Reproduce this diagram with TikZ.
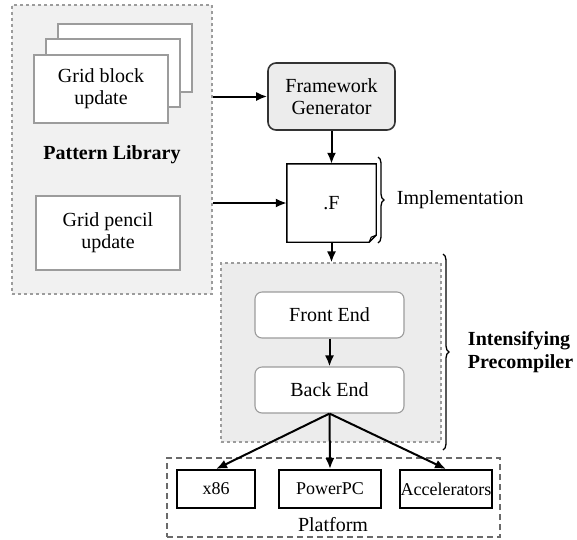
\documentclass[tikz,border=0pt]{standalone}
\usepackage{fontspec}
\setmainfont{Liberation Serif}
\usetikzlibrary{positioning,arrows.meta,decorations.pathreplacing}

\definecolor{panelgray}{HTML}{F1F1F1}
\definecolor{edgegray}{HTML}{9C9C9C}
\definecolor{boxgray}{HTML}{ECECEC}
\definecolor{platgray}{HTML}{6A6A6A}

\tikzset{
  panel/.style={draw=edgegray, dashed, fill=panelgray, line width=1.1pt},
  page/.style={draw=edgegray, fill=white, line width=1.5pt, minimum width=134pt,
    minimum height=68pt, align=center},
  stage/.style={draw=edgegray, fill=white, rounded corners=7pt, line width=1.1pt,
    minimum width=149pt, minimum height=46pt},
  target/.style={draw, line width=2pt, fill=white, minimum height=38pt, inner sep=1pt,
    font=\fontsize{18}{21}\selectfont},
  flow/.style={-{Latex[length=11pt, width=9pt]}, line width=2pt},
  bracket/.style={decorate, decoration={brace, amplitude=6pt}, line width=1.3pt},
}

\begin{document}
\begin{tikzpicture}[x=1pt, y=-1pt, font=\fontsize{20}{22}\selectfont]
  \useasboundingbox (0,0) rectangle (577,539);

  % pattern library
  \node[panel, minimum width=200pt, minimum height=289pt] (lib) at (112,149.5) {};
  \node[page] (blkback) at (125,58) {};
  \node[page] (blkmid) at (113,73) {};
  \node[page] (blk) at (101,89) {Grid block\\update};
  \node[font=\fontsize{20}{22}\selectfont\bfseries] (libname) at (112,155) {Pattern Library};
  \node[page, minimum width=144pt, minimum height=74pt] (pencil) at (108,233) {Grid pencil\\update};

  % generator and implementation
  \node[draw=black!80, fill=boxgray, rounded corners=8pt, line width=1.6pt,
    minimum width=127pt, minimum height=67pt, align=center] (fw) at (331.5,96.5)
    {Framework\\Generator};
  \node[minimum width=89pt, minimum height=78pt] (impl) at (331.5,203) {.F};
  \draw[line width=1.4pt] (impl.north west) -- (impl.north east)
    -- ([yshift=7pt]impl.south east) -- ([xshift=-7pt]impl.south east)
    -- (impl.south west) -- cycle;
  \draw[line width=1.1pt] ([yshift=7pt]impl.south east) -- ([xshift=-5pt, yshift=5pt]impl.south east)
    -- ([xshift=-7pt]impl.south east);

  \draw[flow] (lib.east |- fw) -- (fw.west);
  \draw[flow] (lib.east |- impl) -- (impl.west);
  \draw[flow] (fw) -- (impl);

  \draw[bracket] (378,157) -- (378,243)
    node[midway, right=15pt] (impllbl) {Implementation};

  % precompiler
  \node[panel, fill=boxgray, minimum width=220pt, minimum height=179pt] (icomp) at (331,352.5) {};
  \node[stage] (fe) at (329.5,315) {Front End};
  \node[stage] (be) at (329.5,390) {Back End};
  \draw[flow] (impl) -- (icomp.north -| impl);
  \draw[flow] (fe) -- (be);

  \draw[bracket] (443,254) -- (443,450)
    node[midway, right=21pt, align=left, font=\fontsize{20}{23}\selectfont\bfseries] (icomplbl)
    {Intensifying\\Precompiler};

  % platform
  \node[draw=platgray, dashed, dash pattern=on 6pt off 4pt, line width=1.6pt,
    minimum width=333pt, minimum height=79pt] (plat) at (333.5,497.5) {};
  \node[target, minimum width=78pt] (x86) at (216,489) {x86};
  \node[target, minimum width=102pt] (ppc) at (330,489) {PowerPC};
  \node[target, minimum width=92pt] (acc) at (446,489) {Accelerators};
  \node (platname) at (333,525) {Platform};

  \draw[flow] (be.south) -- (x86.north);
  \draw[flow] (be.south) -- (ppc.north);
  \draw[flow] (be.south) -- (acc.north);
\end{tikzpicture}
\end{document}
